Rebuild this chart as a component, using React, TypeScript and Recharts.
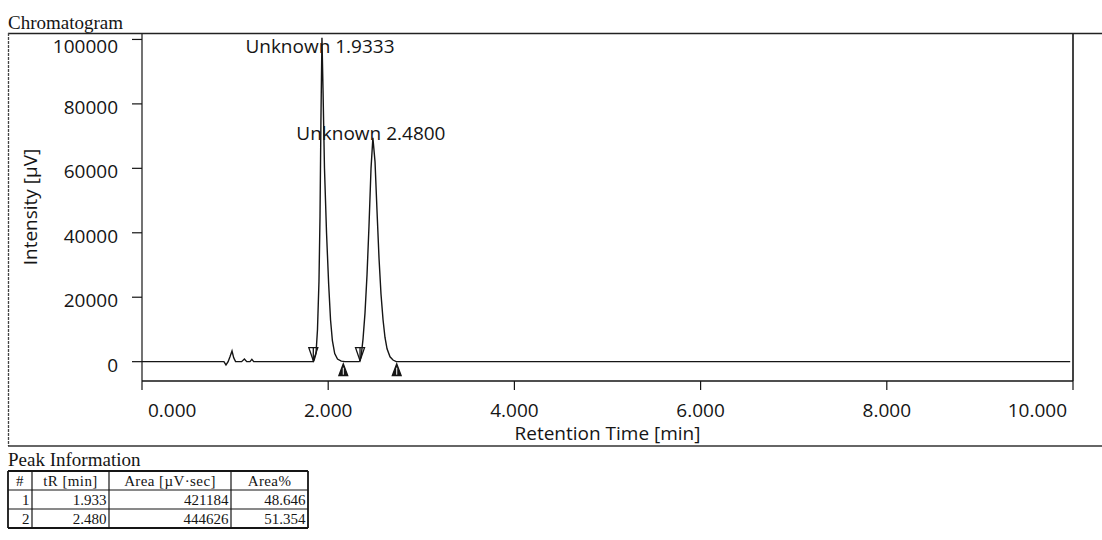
import React from 'react';
import { ComposedChart, Line, Scatter, XAxis, YAxis, ReferenceLine } from 'recharts';

// ---- chromatogram trace (retention time [min], intensity [µV]) ----
const timeMin = [
  0.0, 0.88, 0.902, 0.925, 0.945, 0.967, 0.985, 1.005, 1.07, 1.1, 1.125, 1.16, 1.18, 1.2,
  1.84, 1.847, 1.869, 1.885, 1.901, 1.912, 1.922, 1.933, 1.944, 1.96, 1.982, 2.005, 2.025,
  2.045, 2.07, 2.1, 2.14, 2.18,
  2.33, 2.342, 2.355, 2.374, 2.395, 2.417, 2.438, 2.46, 2.48, 2.503, 2.524, 2.546, 2.567,
  2.589, 2.61, 2.632, 2.664, 2.696, 2.73, 9.97,
];
const intensityUV = [
  0, 0, -1000, 0, 1500, 3300, 1200, 0, 0, 800, 0, 0, 700, 0,
  0, 300, 2500, 10000, 25000, 45000, 75000, 100500, 85000, 60000, 40000, 24000, 13000,
  6500, 2500, 800, 150, 0,
  0, 300, 2000, 7000, 15000, 27000, 42000, 60000, 69500, 62000, 47000, 32000, 21000,
  13000, 7500, 4000, 1500, 500, 0, 0,
];

// ---- axes ----
const xTicks = [0, 2, 4, 6, 8, 10];
const yTicks = [0, 20000, 40000, 60000, 80000, 100000];

// ---- peaks ----
const peakNames = ['Unknown 1.9333', 'Unknown 2.4800'];
const peakApexTime = [1.9333, 2.48];
const peakApexHeight = [100500, 69500];
const peakStartTime = [1.84, 2.342];
const peakEndTime = [2.162, 2.736];

// ---- peak information table ----
const tableHeaders = ['#', 'tR [min]', 'Area [µV·sec]', 'Area%'];
const tableNo = ['1', '2'];
const tableTR = ['1.933', '2.480'];
const tableArea = ['421184', '444626'];
const tableAreaPct = ['48.646', '51.354'];

const chromData = timeMin.map((t, i) => ({ t, v: intensityUV[i] }));
const labelData = peakApexTime.map((t, i) => ({ t, v: peakApexHeight[i], name: peakNames[i] }));
const startData = peakStartTime.map((t) => ({ t, v: 0 }));
const endData = peakEndTime.map((t) => ({ t, v: 0 }));

const SANS = "'Open Sans', 'DejaVu Sans', sans-serif";
const SERIF = "'Liberation Serif', 'DejaVu Serif', serif";
const INK = '#151515';

const XTick = (props: any) => {
  const { x, y, payload } = props;
  const v = payload.value as number;
  let anchor: 'start' | 'middle' | 'end' = 'middle';
  let tx = x;
  if (v === xTicks[0]) { anchor = 'start'; tx = x + 6; }
  if (v === xTicks[xTicks.length - 1]) { anchor = 'end'; tx = x - 6; }
  return (
    <text x={tx} y={y + 25} textAnchor={anchor} fontFamily={SANS} fontSize={19} fill={INK}>
      {v.toFixed(3)}
    </text>
  );
};

const YTick = (props: any) => {
  const { x, y, payload } = props;
  return (
    <text x={x} y={Math.max(y + 10, 53)} textAnchor="end" fontFamily={SANS} fontSize={19} fill={INK}>
      {String(payload.value)}
    </text>
  );
};

const PeakLabel = (p: any) => {
  const name = (p.payload && p.payload.name) || p.name;
  return (
    <text x={p.cx - 2} y={Math.max(p.cy + 2, 53)} textAnchor="middle" fontFamily={SANS} fontSize={19} fill={INK}>
      {name}
    </text>
  );
};

const StartMark = (p: any) => {
  const { cx, cy } = p;
  const tip = cy - 1;
  const top = cy - 14;
  return (
    <g stroke={INK} strokeWidth={1.3} fill="none">
      <path d={`M${cx - 4.5},${top} L${cx + 4.5},${top} L${cx},${tip} Z`} />
      <line x1={cx} y1={top} x2={cx} y2={tip} />
    </g>
  );
};

const EndMark = (p: any) => {
  const { cx, cy } = p;
  const tip = cy + 2;
  const base = cy + 14;
  return (
    <g stroke={INK} strokeWidth={1.2}>
      <path d={`M${cx - 4.5},${base} L${cx + 4.5},${base} L${cx},${tip} Z`} fill={INK} />
      <line x1={cx} y1={tip + 4} x2={cx} y2={base - 1} stroke="#fff" strokeWidth={1} />
    </g>
  );
};

const colEdges = [8, 32, 109, 231, 308];
const rowEdges = [471, 490, 509, 528];

export default function App() {
  const rows = tableNo.map((n, i) => [n, tableTR[i], tableArea[i], tableAreaPct[i]]);
  return (
    <div style={{ position: 'absolute', left: 0, top: 0, width: 1102, height: 540, background: '#fff' }}>
      <div style={{ position: 'absolute', left: 0, top: 0 }}>
        <ComposedChart
          width={1102}
          height={450}
          data={chromData}
          margin={{ top: 33, right: 29, bottom: 0, left: 0 }}
        >
          <XAxis
            dataKey="t"
            type="number"
            domain={[0, 10]}
            ticks={xTicks}
            allowDataOverflow
            height={69}
            tickSize={9}
            tickMargin={2}
            axisLine={{ stroke: INK, strokeWidth: 1.6 }}
            tickLine={{ stroke: INK, strokeWidth: 1.2 }}
            tick={XTick}
            interval={0}
            label={(lp: any) => {
              const vb = lp.viewBox || {};
              return (
                <text
                  x={vb.x + vb.width / 2}
                  y={439.5}
                  textAnchor="middle"
                  fontFamily={SANS}
                  fontSize={19}
                  fill={INK}
                >
                  Retention Time [min]
                </text>
              );
            }}
          />
          <YAxis
            dataKey="v"
            type="number"
            domain={[-6000, 102000]}
            ticks={yTicks}
            allowDataOverflow
            width={142}
            tickSize={10}
            tickMargin={14}
            axisLine={{ stroke: INK, strokeWidth: 1.2 }}
            tickLine={{ stroke: INK, strokeWidth: 1.2 }}
            tick={YTick}
            interval={0}
            label={() => (
              <text
                x={30}
                y={207}
                transform="rotate(-90, 30, 207)"
                textAnchor="middle"
                dominantBaseline="central"
                fontFamily={SANS}
                fontSize={19}
                fill={INK}
              >
                Intensity [µV]
              </text>
            )}
          />
          <ReferenceLine x={10} stroke={INK} strokeWidth={1.6} />
          <Line
            dataKey="v"
            type="linear"
            stroke={INK}
            strokeWidth={1.4}
            dot={false}
            activeDot={false}
            isAnimationActive={false}
          />
          <Scatter data={startData} dataKey="v" shape={StartMark} isAnimationActive={false} />
          <Scatter data={endData} dataKey="v" shape={EndMark} isAnimationActive={false} />
          <Scatter data={labelData} dataKey="v" shape={PeakLabel} isAnimationActive={false} />
        </ComposedChart>
      </div>
      <svg
        width={1102}
        height={540}
        style={{ position: 'absolute', left: 0, top: 0, pointerEvents: 'none' }}
      >
        <text x={8} y={29} fontFamily={SERIF} fontSize={19} fill={INK}>Chromatogram</text>
        {/* outer frame */}
        <line x1={8} y1={33.5} x2={1102} y2={33.5} stroke="#222" strokeWidth={1.3} />
        <line x1={8.5} y1={33} x2={8.5} y2={446} stroke="#444" strokeWidth={1.3} strokeDasharray="3 1" />
        <line x1={8} y1={446} x2={1102} y2={446} stroke="#333" strokeWidth={1.6} />

        <text x={8} y={466} fontFamily={SERIF} fontSize={19} fill={INK}>Peak Information</text>
        {/* table grid */}
        {rowEdges.map((ry, i) => (
          <line
            key={'r' + i}
            x1={colEdges[0]}
            y1={ry}
            x2={colEdges[colEdges.length - 1]}
            y2={ry}
            stroke={INK}
            strokeWidth={i === 0 || i === rowEdges.length - 1 ? 1.8 : 1.2}
          />
        ))}
        {colEdges.map((cx, i) => (
          <line
            key={'c' + i}
            x1={cx}
            y1={rowEdges[0]}
            x2={cx}
            y2={rowEdges[rowEdges.length - 1]}
            stroke={INK}
            strokeWidth={i === 0 || i === colEdges.length - 1 ? 1.8 : 1.2}
          />
        ))}
        {tableHeaders.map((h, i) => (
          <text
            key={'h' + i}
            x={(colEdges[i] + colEdges[i + 1]) / 2}
            y={(rowEdges[0] + rowEdges[1]) / 2 + 5}
            textAnchor="middle"
            fontFamily={SERIF}
            fontSize={15}
            letterSpacing={0.4}
            fill={INK}
          >
            {h}
          </text>
        ))}
        {rows.map((r, ri) =>
          r.map((cell, ci) => (
            <text
              key={'t' + ri + '-' + ci}
              x={colEdges[ci + 1] - 2.5}
              y={(rowEdges[ri + 1] + rowEdges[ri + 2]) / 2 + 5}
              textAnchor="end"
              fontFamily={SERIF}
              fontSize={15}
              fill={INK}
            >
              {cell}
            </text>
          ))
        )}
      </svg>
    </div>
  );
}
